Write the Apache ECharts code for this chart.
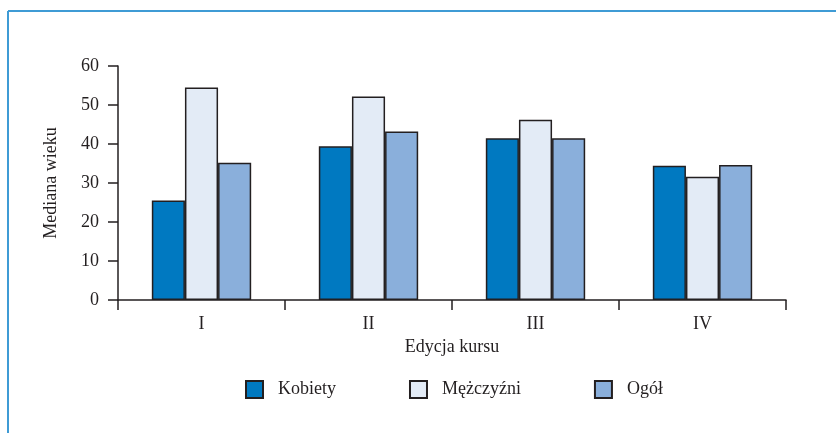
<!DOCTYPE html>
<html><head><meta charset="utf-8">
<script src="https://cdn.jsdelivr.net/npm/echarts@6/dist/echarts.min.js"></script>
<style>html,body{margin:0;padding:0;background:#fff}#c{width:836px;height:433px}</style>
</head><body><div id="c"></div>
<script>
const categories = ['I', 'II', 'III', 'IV'];
const seriesNames = ['Kobiety', 'Mężczyźni', 'Ogół'];
const kobiety = [25.5, 39.4, 41.5, 34.4];
const mezczyzni = [54.5, 52.2, 46.2, 31.6];
const ogol = [35.2, 43.2, 41.5, 34.6];
const yTicks = [0, 10, 20, 30, 40, 50, 60];
const axisTitleX = 'Edycja kursu';
const axisTitleY = 'Mediana wieku';

const colors = ['#0079c1', '#e3ebf6', '#8aafdb'];
const dark = '#231f20';
const font = "'Liberation Serif', 'Times New Roman', serif";
const values = [kobiety, mezczyzni, ogol];

const chart = echarts.init(document.getElementById('c'), null, {renderer: 'canvas'});
chart.setOption({
  animation: false,
  backgroundColor: '#ffffff',
  textStyle: {fontFamily: font, color: dark},
  grid: {left: 118, right: 50, top: 66, bottom: 133},
  graphic: [
    {type: 'line', shape: {x1: 8, y1: 11, x2: 836, y2: 11}, style: {stroke: '#3f9bd5', lineWidth: 2}},
    {type: 'line', shape: {x1: 8, y1: 11, x2: 8, y2: 433}, style: {stroke: '#3f9bd5', lineWidth: 2}}
  ],
  legend: {
    left: 240, top: 375,
    itemWidth: 17, itemHeight: 17, itemGap: 73,
    icon: 'rect',
    data: seriesNames,
    textStyle: {fontFamily: font, fontSize: 18, color: dark, padding: [0, 0, 0, 10]}
  },
  xAxis: {
    type: 'category',
    data: categories,
    name: axisTitleX,
    nameLocation: 'middle',
    nameGap: 27,
    nameTextStyle: {fontFamily: font, fontSize: 18, color: dark},
    axisLine: {lineStyle: {color: dark, width: 1.5}},
    axisTick: {show: true, length: 10, lineStyle: {color: dark, width: 1.5}},
    axisLabel: {fontFamily: font, fontSize: 18, color: dark, margin: 15}
  },
  yAxis: {
    type: 'value',
    min: yTicks[0], max: yTicks[yTicks.length - 1], interval: 10,
    name: axisTitleY,
    nameLocation: 'middle',
    nameGap: 58,
    nameTextStyle: {fontFamily: font, fontSize: 18, color: dark},
    axisLine: {show: true, lineStyle: {color: dark, width: 1.5}},
    axisTick: {show: true, length: 10, lineStyle: {color: dark, width: 1.5}},
    axisLabel: {fontFamily: font, fontSize: 18, color: dark, margin: 19},
    splitLine: {show: false}
  },
  series: seriesNames.map((n, i) => ({
    name: n,
    type: 'bar',
    data: values[i],
    barGap: '0%',
    barCategoryGap: '40.5%',
    itemStyle: {color: colors[i], borderColor: dark, borderWidth: 1.5}
  }))
});
</script></body></html>
